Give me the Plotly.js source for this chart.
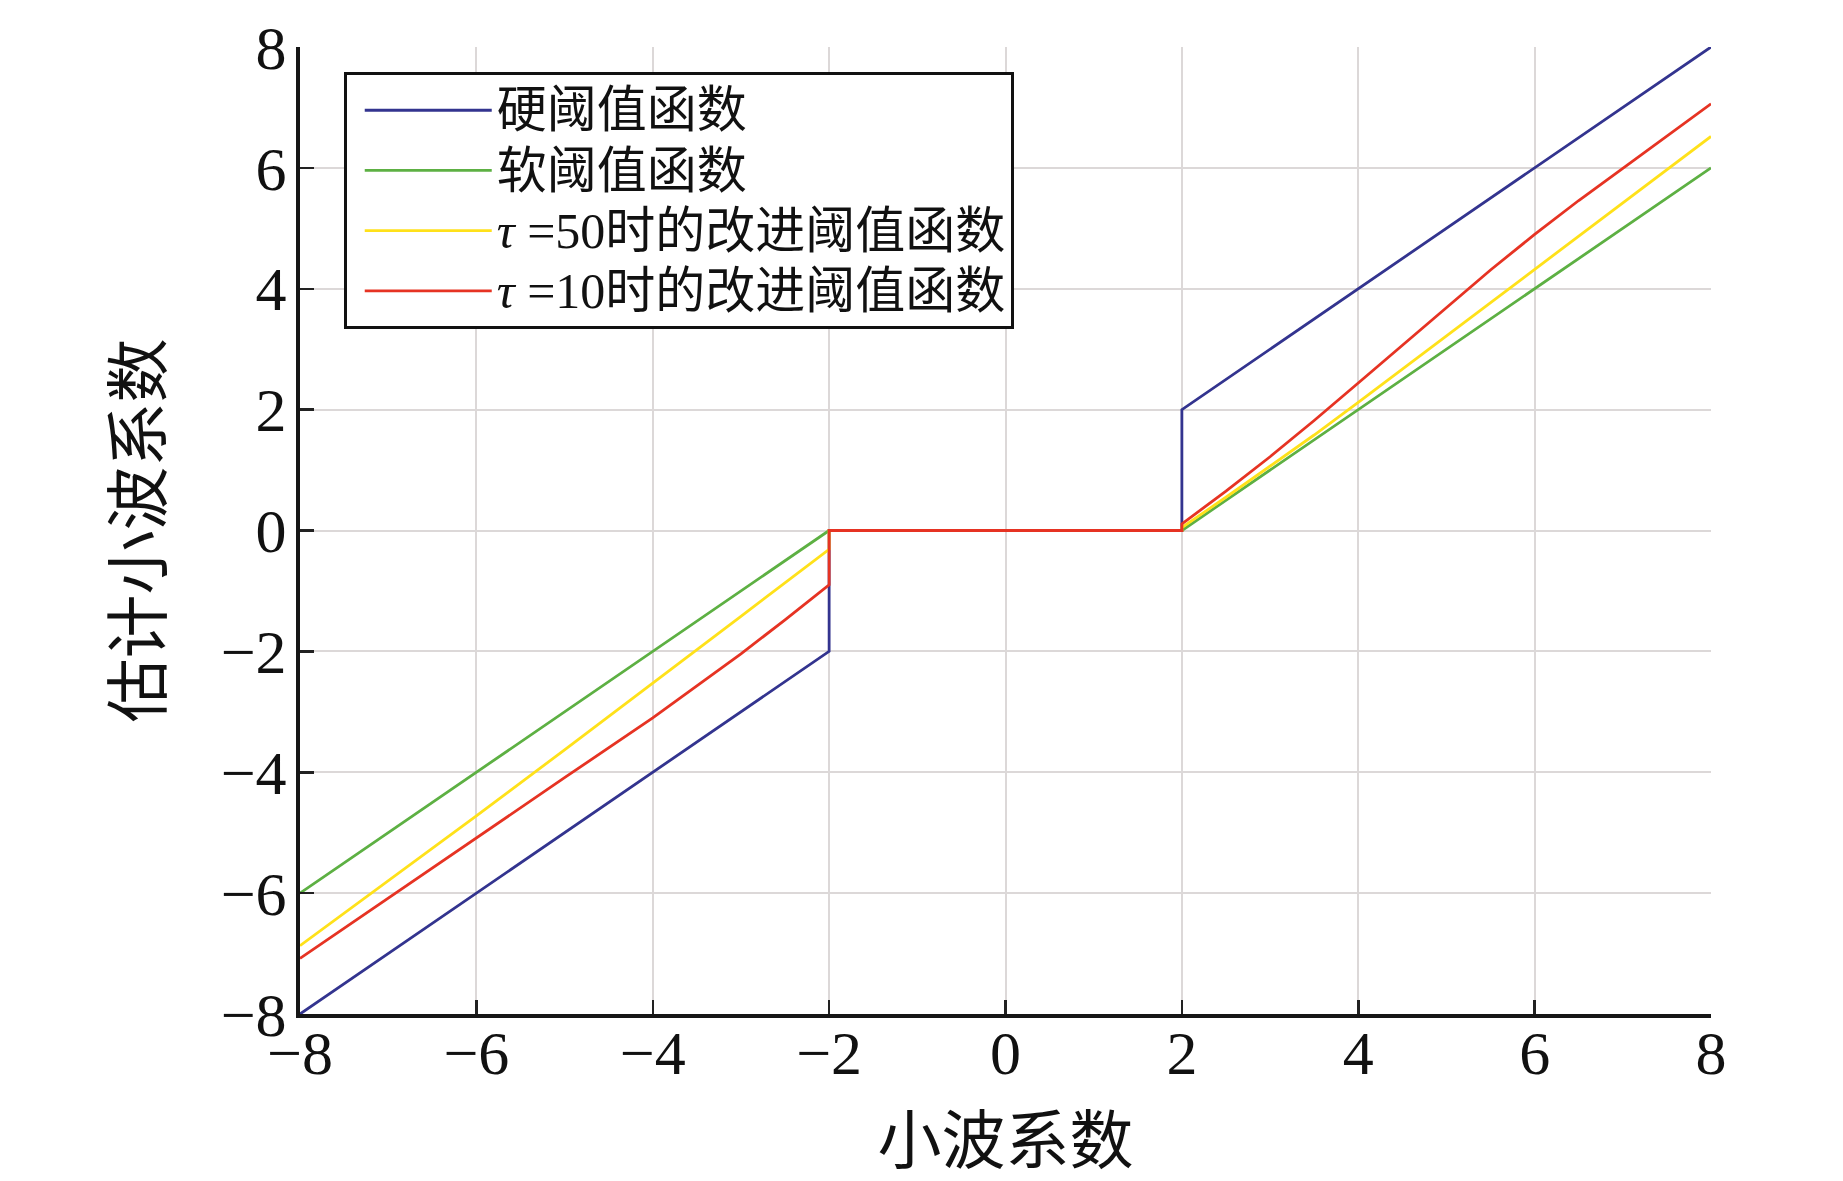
<!DOCTYPE html>
<html>
<head>
<meta charset="utf-8">
<script src="https://cdn.plot.ly/plotly-3.0.1.min.js"></script>
<style>html,body{margin:0;padding:0;background:#fff;}#chart{width:1843px;height:1181px;}</style>
</head>
<body>
<div id="chart"></div>
<script>
// ---- data ----
const seriesNames = ["硬阈值函数", "软阈值函数", "<i>τ</i> =50时的改进阈值函数", "<i>τ</i> =10时的改进阈值函数"];

const hardX = [-8, -2, -2, 2, 2, 8];
const hardY = [-8, -2, 0, 0, 2, 8];

const softX = [-8, -2, 2, 8];
const softY = [-6, 0, 0, 6];

const tau50X = [-8, -7, -6, -5, -4, -3, -2, -2, 2, 2, 2.5, 3, 3.5, 4, 4.5, 5, 5.5, 6, 7, 8];
const tau50Y = [-6.87, -5.80, -4.72, -3.63, -2.53, -1.42, -0.31, 0, 0, 0.05, 0.55, 1.06, 1.58, 2.12, 2.67, 3.22, 3.77, 4.31, 5.41, 6.52];

const tau10X = [-8, -7, -6, -5, -4, -3, -2.5, -2, -2, 2, 2, 2.5, 3, 3.5, 4, 4.5, 5, 5.5, 6, 6.5, 7, 7.5, 8];
const tau10Y = [-7.08, -6.08, -5.08, -4.09, -3.10, -2.04, -1.48, -0.90, 0, 0, 0.11, 0.65, 1.22, 1.82, 2.44, 3.06, 3.69, 4.31, 4.90, 5.46, 5.99, 6.53, 7.06];

const tickVals = [-8, -6, -4, -2, 0, 2, 4, 6, 8];
const tickText = ["\u22128", "\u22126", "\u22124", "\u22122", "0", "2", "4", "6", "8"];

const xTitle = "小波系数";
const yTitle = "估计小波系数";

// ---- styles ----
const colors = ["#33348f", "#5db043", "#ffe11a", "#e63323"];
const lineW = 2.8;
const legendTextSize = 50;

const traces = [
  {x: hardX, y: hardY, name: seriesNames[0]},
  {x: softX, y: softY, name: seriesNames[1]},
  {x: tau50X, y: tau50Y, name: seriesNames[2]},
  {x: tau10X, y: tau10Y, name: seriesNames[3]}
].map((t, i) => Object.assign(t, {
  name: '<span style="font-size:' + legendTextSize + 'px">' + t.name + '</span>',
  type: "scatter", mode: "lines",
  line: {color: colors[i], width: lineW}
}));

const serif = "Liberation Serif";
const cjk = "Noto Sans CJK SC";

function axisCommon() {
  return {
    range: [-8, 8],
    tickmode: "array",
    tickvals: tickVals,
    ticktext: tickText,
    showgrid: true,
    gridcolor: "#dcd8d8",
    gridwidth: 2,
    zeroline: false,
    showline: true,
    linecolor: "#161616",
    linewidth: 4,
    ticks: "inside",
    ticklen: 14,
    tickwidth: 2.5,
    tickcolor: "#222",
    tickfont: {family: serif, size: 62, color: "#111"},
    fixedrange: true
  };
}

const layout = {
  width: 1843, height: 1181,
  margin: {l: 300, r: 132, t: 47, b: 167},
  paper_bgcolor: "#fff",
  plot_bgcolor: "#fff",
  showlegend: true,
  xaxis: Object.assign(axisCommon(), {
    title: {text: xTitle, font: {family: cjk, size: 64, color: "#111"}, standoff: 71},
    ticklabelstandoff: -18
  }),
  yaxis: Object.assign(axisCommon(), {
    title: {text: yTitle, font: {family: cjk, size: 64, color: "#111"}, standoff: 39},
    ticklabelstandoff: -3
  }),
  legend: {
    x: 0.031, y: 0.974, xanchor: "left", yanchor: "top",
    bgcolor: "#fff",
    bordercolor: "#111",
    borderwidth: 3,
    font: {family: serif + ", " + cjk, size: 44, color: "#111"},
    itemwidth: 127,
    indentation: 13,
    tracegroupgap: 0
  }
};

Plotly.newPlot("chart", traces, layout, {displayModeBar: false, staticPlot: true});
</script>
</body>
</html>
